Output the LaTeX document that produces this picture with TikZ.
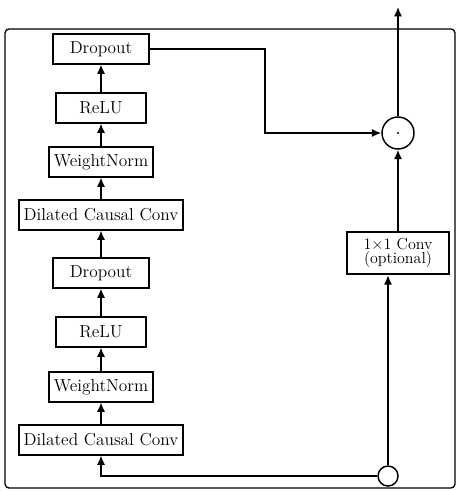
\documentclass[tikz,border=0pt]{standalone}
\usetikzlibrary{arrows.meta,positioning}

\tikzset{
  layer/.style={draw,line width=1.3pt,minimum height=22pt,inner xsep=3.5pt,font=\fontsize{13}{14}\selectfont},
  flow/.style={line width=1.1pt,-{Latex[length=7pt,width=6pt]}},
  wire/.style={line width=1.1pt}
}

\begin{document}
\begin{tikzpicture}[x=0.75pt,y=-0.75pt]
\useasboundingbox (0,0) rectangle (457,491);
\draw[line width=1pt,rounded corners=3pt] (5,29) rectangle (455,488);
% left column, bottom to top
\node[layer] (dcc2) at (101,440) {Dilated Causal Conv};
\node[layer] (wn2) at (101,387) {WeightNorm};
\node[layer,minimum width=68pt] (relu2) at (101,332) {ReLU};
\node[layer,minimum width=72pt] (drop2) at (101,273) {Dropout};
\node[layer] (dcc1) at (101,215) {Dilated Causal Conv};
\node[layer] (wn1) at (101,162) {WeightNorm};
\node[layer,minimum width=68pt] (relu1) at (101,108) {ReLU};
\node[layer,minimum width=72pt] (drop1) at (101,49) {Dropout};
% residual branch
\node[layer,align=center,minimum width=77pt,minimum height=32pt,font=\fontsize{12}{11}\selectfont] (conv) at (398,253) {1\texttimes1 Conv\\(optional)};
\node[draw,circle,line width=1.1pt,minimum size=24pt,inner sep=0pt] (sum) at (398,133) {};
\fill (sum.center) circle (0.9pt);
\node[draw,circle,line width=1.1pt,fill=white,minimum size=15pt,inner sep=0pt] (split) at (388,476) {};
\coordinate (bend) at (265,133);
\coordinate (out) at (398,7);
\draw[flow] (dcc2) -- (wn2);
\draw[flow] (wn2) -- (relu2);
\draw[flow] (relu2) -- (drop2);
\draw[flow] (drop2) -- (dcc1);
\draw[flow] (dcc1) -- (wn1);
\draw[flow] (wn1) -- (relu1);
\draw[flow] (relu1) -- (drop1);
\draw[flow] (drop1.east) -| (bend) -- (sum.west);
\draw[flow] (split.west) -| (dcc2.south);
\draw[flow] (split.north) -- (split |- conv.south);
\draw[flow] (conv.north) -- (sum.south);
\draw[flow] (sum.north) -- (out);
\end{tikzpicture}
\end{document}
